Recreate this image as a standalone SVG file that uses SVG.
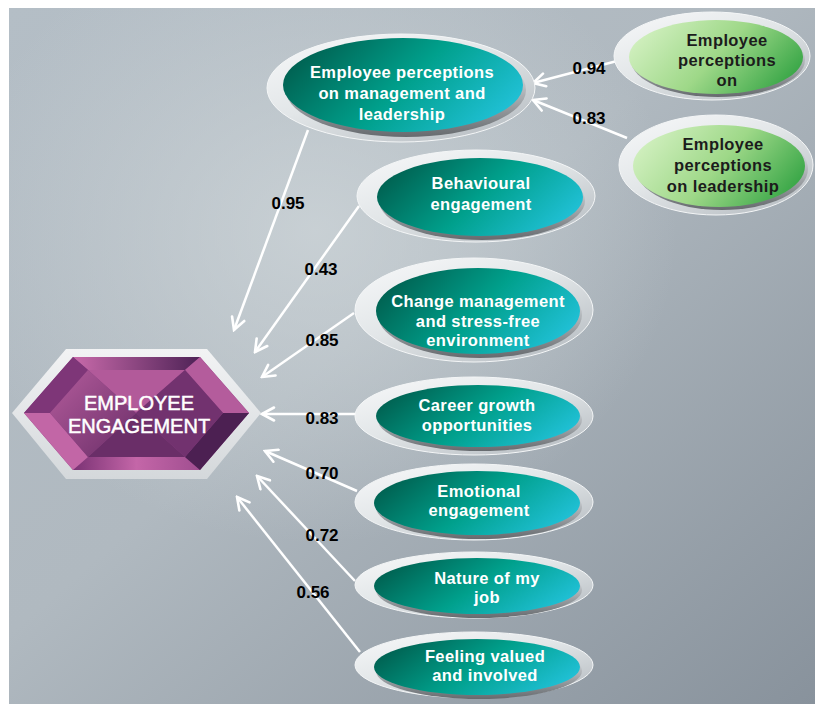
<svg xmlns="http://www.w3.org/2000/svg" width="815" height="704" viewBox="0 0 815 704">
<defs>
<linearGradient id="bg" x1="0" y1="0" x2="1" y2="1">
<stop offset="0" stop-color="#b4bec6"/>
<stop offset="0.45" stop-color="#b0b9c0"/>
<stop offset="1" stop-color="#88929c"/>
</linearGradient>
<radialGradient id="bgHi" cx="0.38" cy="0.32" r="0.45">
<stop offset="0" stop-color="#d2d9dc" stop-opacity="0.7"/>
<stop offset="1" stop-color="#d2d9dc" stop-opacity="0"/>
</radialGradient>
<linearGradient id="ring" x1="0" y1="0" x2="0.8" y2="1">
<stop offset="0" stop-color="#f8f9fa"/>
<stop offset="0.5" stop-color="#e2e6e8"/>
<stop offset="1" stop-color="#b9bfc4"/>
</linearGradient>
<linearGradient id="shadow" x1="0" y1="0" x2="0" y2="1">
<stop offset="0.4" stop-color="#c4c8cc"/>
<stop offset="1" stop-color="#666a6e"/>
</linearGradient>
<linearGradient id="teal" x1="0" y1="0.3" x2="1" y2="0.7">
<stop offset="0" stop-color="#005f4f"/>
<stop offset="0.5" stop-color="#00a08c"/>
<stop offset="1" stop-color="#22c2da"/>
</linearGradient>
<linearGradient id="green" x1="0" y1="0.3" x2="1" y2="0.7">
<stop offset="0" stop-color="#d2f0c0"/>
<stop offset="0.5" stop-color="#9ed888"/>
<stop offset="1" stop-color="#34a444"/>
</linearGradient>
<linearGradient id="hexBorder" x1="0" y1="0" x2="0" y2="1">
<stop offset="0" stop-color="#f2f3f4"/>
<stop offset="1" stop-color="#d4d8db"/>
</linearGradient>
<linearGradient id="pTop" x1="0" y1="0" x2="1" y2="0">
<stop offset="0" stop-color="#c86aaa"/>
<stop offset="1" stop-color="#4e2256"/>
</linearGradient>
<linearGradient id="pBot" x1="0" y1="0" x2="1" y2="0">
<stop offset="0" stop-color="#7a3274"/>
<stop offset="0.5" stop-color="#c466a8"/>
<stop offset="1" stop-color="#a04e90"/>
</linearGradient>
<linearGradient id="pMid" x1="0" y1="0" x2="1" y2="1">
<stop offset="0" stop-color="#b45c9c"/>
<stop offset="1" stop-color="#6a2e68"/>
</linearGradient>
<marker id="arr" markerUnits="userSpaceOnUse" viewBox="0 0 16 16" refX="14" refY="8" markerWidth="16" markerHeight="16" orient="auto">
<path d="M2,1.5 L14,8 L2,14.5" fill="none" stroke="#ffffff" stroke-width="2.6" stroke-linecap="round" stroke-linejoin="miter"/>
</marker>
</defs>
<style>
.ringE{fill:url(#ring);stroke:#f4f6f7;stroke-width:1}
.shad{fill:url(#shadow)}
.tealE{fill:url(#teal)}
.greenE{fill:url(#green)}
.t{font-family:"Liberation Sans",Arial,sans-serif;font-weight:bold;font-size:16.5px;letter-spacing:0.4px;fill:#ffffff;text-anchor:middle}
.td{font-family:"Liberation Sans",Arial,sans-serif;font-weight:bold;font-size:16.5px;letter-spacing:0.4px;fill:#1c1c1c;text-anchor:middle}
.lbl{font-family:"Liberation Sans",Arial,sans-serif;font-weight:bold;font-size:17px;fill:#000000;text-anchor:middle}
.hx{font-family:"Liberation Sans",Arial,sans-serif;font-size:20px;fill:#ffffff;stroke:#ffffff;stroke-width:0.5;text-anchor:middle}
.con line{stroke:#ffffff;stroke-width:2.5;marker-end:url(#arr)}
</style>
<rect x="0" y="0" width="815" height="704" fill="#ffffff"/>
<rect x="9" y="8" width="806" height="696" fill="url(#bg)"/>
<rect x="9" y="8" width="806" height="696" fill="url(#bgHi)"/>

<g id="connectors" class="con">
<line x1="308" y1="130" x2="234" y2="330"/>
<line x1="359" y1="206" x2="255" y2="352"/>
<line x1="354" y1="313" x2="262" y2="377"/>
<line x1="356" y1="414" x2="262" y2="414"/>
<line x1="357" y1="491" x2="265" y2="451"/>
<line x1="355" y1="581" x2="257" y2="476"/>
<line x1="360" y1="652" x2="237" y2="497"/>
<line x1="617" y1="61" x2="533" y2="83"/>
<line x1="627" y1="138" x2="533" y2="100"/>
</g>

<g id="labels">
<text class="lbl" x="288" y="209">0.95</text>
<text class="lbl" x="321" y="275">0.43</text>
<text class="lbl" x="322" y="346">0.85</text>
<text class="lbl" x="322" y="424">0.83</text>
<text class="lbl" x="322" y="479">0.70</text>
<text class="lbl" x="322" y="541">0.72</text>
<text class="lbl" x="313" y="598">0.56</text>
<text class="lbl" x="589" y="74">0.94</text>
<text class="lbl" x="589" y="124">0.83</text>
</g>

<g id="employee-engagement">
<polygon points="12,413 66,349 207,349 261,413 207,479 66,479" fill="url(#hexBorder)"/>
<polygon points="24,413 73,357 200,357 249,413 200,470 73,470" fill="#8a3e82"/>
<polygon points="73,357 200,357 185,370 88,370" fill="url(#pTop)"/>
<polygon points="73,470 200,470 185,457 88,457" fill="url(#pBot)"/>
<polygon points="24,413 73,357 88,370 50,413" fill="#7e3678"/>
<polygon points="24,413 50,413 88,457 73,470" fill="#c266a6"/>
<polygon points="249,413 200,357 185,370 223,413" fill="#b45c9c"/>
<polygon points="249,413 223,413 185,457 200,470" fill="#4c2052"/>
<polygon points="88,370 185,370 136,413" fill="#b25a9a"/>
<polygon points="88,457 185,457 136,413" fill="#6a2e68"/>
<polygon points="50,413 88,370 136,413 88,457" fill="url(#pMid)"/>
<polygon points="223,413 185,370 136,413 185,457" fill="#72326f"/>
<text class="hx" x="139" y="410">EMPLOYEE</text>
<text class="hx" x="139" y="433">ENGAGEMENT</text>
</g>

<g id="mgmt-leadership">
<ellipse class="ringE" cx="401" cy="88" rx="134" ry="54"/>
<ellipse class="shad" cx="406" cy="90" rx="120" ry="47"/>
<ellipse class="tealE" cx="403" cy="85" rx="120" ry="47"/>
<text class="t" x="402" y="78">Employee perceptions</text>
<text class="t" x="402" y="99">on management and</text>
<text class="t" x="402" y="120">leadership</text>
</g>

<g id="perceptions-on">
<ellipse class="ringE" cx="712" cy="56" rx="98" ry="44"/>
<ellipse class="shad" cx="718" cy="60" rx="87" ry="37"/>
<ellipse class="greenE" cx="716" cy="57" rx="87" ry="37"/>
<text class="td" x="727" y="46">Employee</text>
<text class="td" x="727" y="66">perceptions</text>
<text class="td" x="727" y="86">on</text>
</g>

<g id="perceptions-leadership">
<ellipse class="ringE" cx="716" cy="165" rx="97" ry="50"/>
<ellipse class="shad" cx="722" cy="169" rx="86" ry="41"/>
<ellipse class="greenE" cx="719" cy="166" rx="86" ry="41"/>
<text class="td" x="723" y="150">Employee</text>
<text class="td" x="723" y="171">perceptions</text>
<text class="td" x="723" y="192">on leadership</text>
</g>

<g id="behavioural">
<ellipse class="ringE" cx="476" cy="196" rx="119" ry="46"/>
<ellipse class="shad" cx="482" cy="201" rx="103" ry="39"/>
<ellipse class="tealE" cx="480" cy="197" rx="103" ry="39"/>
<text class="t" x="481" y="189">Behavioural</text>
<text class="t" x="481" y="210">engagement</text>
</g>

<g id="change-management">
<ellipse class="ringE" cx="474" cy="310" rx="119" ry="52"/>
<ellipse class="shad" cx="480" cy="315" rx="102" ry="43"/>
<ellipse class="tealE" cx="478" cy="311" rx="102" ry="43"/>
<text class="t" x="478" y="307">Change management</text>
<text class="t" x="478" y="327">and stress-free</text>
<text class="t" x="478" y="346">environment</text>
</g>

<g id="career-growth">
<ellipse class="ringE" cx="474" cy="416" rx="119" ry="39"/>
<ellipse class="shad" cx="480" cy="420" rx="102" ry="31"/>
<ellipse class="tealE" cx="478" cy="416" rx="102" ry="31"/>
<text class="t" x="477" y="411">Career growth</text>
<text class="t" x="477" y="431">opportunities</text>
</g>

<g id="emotional">
<ellipse class="ringE" cx="474" cy="502" rx="119" ry="38"/>
<ellipse class="shad" cx="479" cy="507" rx="103" ry="32"/>
<ellipse class="tealE" cx="477" cy="503" rx="103" ry="32"/>
<text class="t" x="479" y="497">Emotional</text>
<text class="t" x="479" y="516">engagement</text>
</g>

<g id="nature-of-job">
<ellipse class="ringE" cx="474" cy="585" rx="119" ry="33"/>
<ellipse class="shad" cx="479" cy="590" rx="103" ry="28"/>
<ellipse class="tealE" cx="477" cy="586" rx="103" ry="28"/>
<text class="t" x="487" y="584">Nature of my</text>
<text class="t" x="487" y="603">job</text>
</g>

<g id="feeling-valued">
<ellipse class="ringE" cx="474" cy="665" rx="119" ry="33"/>
<ellipse class="shad" cx="479" cy="671" rx="103" ry="28"/>
<ellipse class="tealE" cx="477" cy="667" rx="103" ry="28"/>
<text class="t" x="485" y="662">Feeling valued</text>
<text class="t" x="485" y="681">and involved</text>
</g>
</svg>
